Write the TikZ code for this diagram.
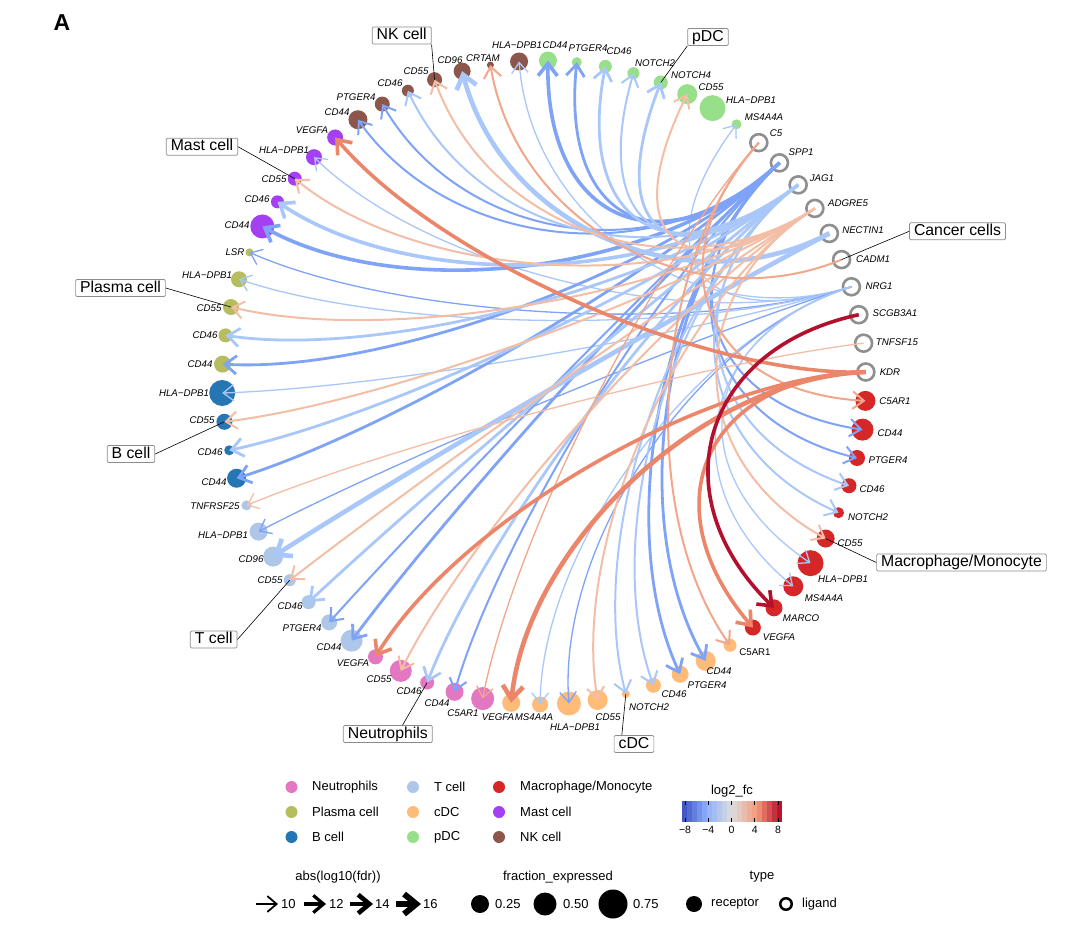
\documentclass[tikz,border=0pt]{standalone}
\usepackage{fontspec}
\setmainfont{Liberation Sans}
\usetikzlibrary{calc,arrows.meta}
\definecolor{cNeu}{HTML}{E377C2}
\definecolor{cPla}{HTML}{B5BD5E}
\definecolor{cB}{HTML}{2676B3}
\definecolor{cT}{HTML}{AEC7E8}
\definecolor{cCDC}{HTML}{FFBB78}
\definecolor{cPDC}{HTML}{98DF8A}
\definecolor{cMac}{HTML}{D62728}
\definecolor{cMast}{HTML}{A43FF2}
\definecolor{cNK}{HTML}{8C564B}
\definecolor{ligc}{HTML}{8F8F8F}
\definecolor{eB}{HTML}{7FA3F6}
\definecolor{eLB}{HTML}{A9C7F8}
\definecolor{eLS}{HTML}{F3BEA5}
\definecolor{eMS}{HTML}{F2A78A}
\definecolor{eS}{HTML}{EB866A}
\definecolor{eDR}{HTML}{B3102D}
\definecolor{cbA}{HTML}{3B4CC0}
\definecolor{cbB}{HTML}{8DB0FE}
\definecolor{cbC}{HTML}{DDDDDD}
\definecolor{cbD}{HTML}{F49A7B}
\definecolor{cbE}{HTML}{B40426}
\newcommand{\af}{0.5}
\newcommand{\rcp}[4]{\node[rcpt, fill=#3, minimum size=#4pt] (#1) at ({-1.87-5.142857*#2}:322) {};}
\newcommand{\lgd}[2]{\node[ligd] (#1) at ({-1.87-5.142857*#2}:322) {};}
\newcommand{\lr}[3]{\draw[lrarrow,#3] (#1.center) .. controls ($(O)!\af!(#1)$) and ($(O)!\af!(#2)$) .. (#2.center);}
\newcommand{\lb}[3]{\node[lbl] (L#1) at (#2) {#3};}
\tikzset{
 rcpt/.style={circle,inner sep=0pt,draw=none},
 ligd/.style={circle,inner sep=0pt,draw=ligc,line width=2.6pt,minimum size=17pt},
 lbl/.style={font=\fontsize{9.7}{11}\selectfont\itshape,inner sep=0pt},
 lbu/.style={font=\fontsize{9.7}{11}\selectfont,inner sep=0pt},
 cellbox/.style={draw=black!45,line width=0.7pt,rounded corners=1.2pt,fill=white,font=\fontsize{15.8}{18}\selectfont,inner xsep=4.5pt,inner ysep=1.2pt,text height=11.4pt,text depth=3.2pt},
 leader/.style={black,line width=0.6pt},
 lrarrow/.style={-{Straight Barb[length=9.5pt 0.8,width=15pt 1.2]}},
 w1/.style={line width=1.3pt},
 w2/.style={line width=2.0pt},
 w3/.style={line width=2.8pt},
 w4/.style={line width=3.6pt},
 w5/.style={line width=4.6pt},
 ldot/.style={circle,inner sep=0pt,minimum size=12pt},
 ltxt/.style={font=\fontsize{13}{15}\selectfont,inner sep=0pt,anchor=west},
 ttl/.style={font=\fontsize{13}{15}\selectfont,inner sep=0pt},
 tck/.style={font=\fontsize{10.5}{12}\selectfont,inner sep=0pt},
 legarrow/.style={black,-{Straight Barb[length=8pt 0.7,width=14pt 1.0]}},
}
\begin{document}
\begin{tikzpicture}[x=1pt,y=-1pt]
\fill[white] (0,0) rectangle (1080,932);
\useasboundingbox (0,0) rectangle (1080,932);
\coordinate (O) at (544,382.5);
\node[font=\fontsize{23}{26}\selectfont\bfseries,inner sep=0pt] (pA) at (62,23) {A};
\begin{scope}[shift={(544,382.5)}]
\lgd{kdr}{0} \lgd{tnfsf}{1} \lgd{scgb}{2} \lgd{nrg}{3} \lgd{cadm}{4}
\lgd{nectin}{5} \lgd{adgre}{6} \lgd{jag}{7} \lgd{spp}{8} \lgd{cfive}{9}
\rcp{pdcMS}{10}{cPDC}{10}
\rcp{pdcHLA}{11}{cPDC}{26}
\rcp{pdcCD55}{12}{cPDC}{20}
\rcp{pdcN4}{13}{cPDC}{14}
\rcp{pdcN2}{14}{cPDC}{12}
\rcp{pdcCD46}{15}{cPDC}{13}
\rcp{pdcPT}{16}{cPDC}{10}
\rcp{pdcCD44}{17}{cPDC}{18}
\rcp{nkHLA}{18}{cNK}{18}
\rcp{nkCRT}{19}{cNK}{7}
\rcp{nkCD96}{20}{cNK}{17}
\rcp{nkCD55}{21}{cNK}{15}
\rcp{nkCD46}{22}{cNK}{12}
\rcp{nkPT}{23}{cNK}{15}
\rcp{nkCD44}{24}{cNK}{19}
\rcp{msVEG}{25}{cMast}{16}
\rcp{msHLA}{26}{cMast}{16}
\rcp{msCD55}{27}{cMast}{14}
\rcp{msCD46}{28}{cMast}{13}
\rcp{msCD44}{29}{cMast}{24}
\rcp{plLSR}{30}{cPla}{8}
\rcp{plHLA}{31}{cPla}{16}
\rcp{plCD55}{32}{cPla}{16}
\rcp{plCD46}{33}{cPla}{14}
\rcp{plCD44}{34}{cPla}{17}
\rcp{bHLA}{35}{cB}{26}
\rcp{bCD55}{36}{cB}{16}
\rcp{bCD46}{37}{cB}{10}
\rcp{bCD44}{38}{cB}{19}
\rcp{tTNF}{39}{cT}{10}
\rcp{tHLA}{40}{cT}{18}
\rcp{tCD96}{41}{cT}{20}
\rcp{tCD55}{42}{cT}{12}
\rcp{tCD46}{43}{cT}{14}
\rcp{tPT}{44}{cT}{16}
\rcp{tCD44}{45}{cT}{22}
\rcp{neVEG}{46}{cNeu}{15}
\rcp{neCD55}{47}{cNeu}{22}
\rcp{neCD46}{48}{cNeu}{14}
\rcp{neCD44}{49}{cNeu}{18}
\rcp{neC5}{50}{cNeu}{23}
\rcp{cdVEG}{51}{cCDC}{18}
\rcp{cdMS}{52}{cCDC}{16}
\rcp{cdHLA}{53}{cCDC}{24}
\rcp{cdCD55}{54}{cCDC}{20}
\rcp{cdN2}{55}{cCDC}{8}
\rcp{cdCD46}{56}{cCDC}{15}
\rcp{cdPT}{57}{cCDC}{17}
\rcp{cdCD44}{58}{cCDC}{20}
\rcp{cdC5}{59}{cCDC}{13}
\rcp{moVEG}{60}{cMac}{16}
\rcp{moMAR}{61}{cMac}{17}
\rcp{moMS}{62}{cMac}{20}
\rcp{moHLA}{63}{cMac}{26}
\rcp{moCD55}{64}{cMac}{18}
\rcp{moN2}{65}{cMac}{11}
\rcp{moCD46}{66}{cMac}{15}
\rcp{moPT}{67}{cMac}{16}
\rcp{moCD44}{68}{cMac}{22}
\rcp{moC5}{69}{cMac}{20}
\end{scope}
% labels
\lb{kdr}{890,372}{KDR}
\lb{tnfsf}{897,342}{TNFSF15}
\lb{scgb}{895,313}{SCGB3A1}
\lb{nrg}{879,286}{NRG1}
\lb{cadm}{873,259}{CADM1}
\lb{nectin}{863,230}{NECTIN1}
\lb{adgre}{848,203}{ADGRE5}
\lb{jag}{822,178}{JAG1}
\lb{spp}{801,152}{SPP1}
\lb{cfive}{776,133}{C5}
\lb{pdcMS}{764,117}{MS4A4A}
\lb{pdcHLA}{751,100}{HLA−DPB1}
\lb{pdcCD55}{711,87}{CD55}
\lb{pdcN4}{691,75}{NOTCH4}
\lb{pdcN2}{655,63}{NOTCH2}
\lb{pdcCD46}{619,51}{CD46}
\lb{pdcPT}{588,48}{PTGER4}
\lb{pdcCD44}{555,45}{CD44}
\lb{nkHLA}{517,45}{HLA−DPB1}
\lb{nkCRT}{483,58}{CRTAM}
\lb{nkCD96}{450,60}{CD96}
\lb{nkCD55}{416,71}{CD55}
\lb{nkCD46}{390,83}{CD46}
\lb{nkPT}{356,97}{PTGER4}
\lb{nkCD44}{337,112}{CD44}
\lb{msVEG}{312,130}{VEGFA}
\lb{msHLA}{284,150}{HLA−DPB1}
\lb{msCD55}{274,179}{CD55}
\lb{msCD46}{257,199}{CD46}
\lb{msCD44}{237,225}{CD44}
\lb{plLSR}{235,252}{LSR}
\lb{plHLA}{207,275}{HLA−DPB1}
\lb{plCD55}{209,308}{CD55}
\lb{plCD46}{205,335}{CD46}
\lb{plCD44}{200,364}{CD44}
\lb{bHLA}{184,393}{HLA−DPB1}
\lb{bCD55}{202,420}{CD55}
\lb{bCD46}{210,452}{CD46}
\lb{bCD44}{214,482}{CD44}
\lb{tTNF}{215,506}{TNFRSF25}
\lb{tHLA}{223,535}{HLA−DPB1}
\lb{tCD96}{251,559}{CD96}
\lb{tCD55}{270,580}{CD55}
\lb{tCD46}{290,606}{CD46}
\lb{tPT}{302,628}{PTGER4}
\lb{tCD44}{329,647}{CD44}
\lb{neVEG}{353,663}{VEGFA}
\lb{neCD55}{379,679}{CD55}
\lb{neCD46}{409,691}{CD46}
\lb{neCD44}{437,703}{CD44}
\lb{neC5}{463,713}{C5AR1}
\lb{cdVEG}{498,717}{VEGFA}
\lb{cdMS}{534,717}{MS4A4A}
\lb{cdHLA}{575,727}{HLA−DPB1}
\lb{cdCD55}{608,717}{CD55}
\lb{cdN2}{649,707}{NOTCH2}
\lb{cdCD46}{674,694}{CD46}
\lb{cdPT}{707,685}{PTGER4}
\lb{cdCD44}{719,671}{CD44}
\node[lbu] (LcdC5) at (755,652) {C5AR1};
\lb{moVEG}{779,637}{VEGFA}
\lb{moMAR}{801,618}{MARCO}
\lb{moMS}{824,598}{MS4A4A}
\lb{moHLA}{843,579}{HLA−DPB1}
\lb{moCD55}{850,543}{CD55}
\lb{moN2}{868,517}{NOTCH2}
\lb{moCD46}{872,489}{CD46}
\lb{moPT}{888,460}{PTGER4}
\lb{moCD44}{890,433}{CD44}
\lb{moC5}{895,401}{C5AR1}
% edges: blue
\lr{nrg}{nkHLA}{eLB,w1}
\lr{nrg}{pdcMS}{eLB,w1}
\lr{nrg}{msHLA}{eLB,w1}
\lr{nrg}{plLSR}{eB,w1}
\lr{nrg}{plHLA}{eLB,w1}
\lr{nrg}{bHLA}{eLB,w1}
\lr{nrg}{tHLA}{eB,w1}
\lr{nrg}{cdMS}{eLB,w1}
\lr{nrg}{cdHLA}{eB,w1}
\lr{nrg}{moMS}{eLB,w1}
\lr{nrg}{moHLA}{eLB,w1}
\lr{spp}{nkCD44}{eB,w2}
\lr{spp}{nkPT}{eB,w2}
\lr{spp}{pdcCD44}{eB,w4}
\lr{spp}{pdcPT}{eB,w3}
\lr{spp}{msCD44}{eB,w4}
\lr{spp}{plCD44}{eB,w3}
\lr{spp}{bCD44}{eB,w3}
\lr{spp}{tPT}{eB,w2}
\lr{spp}{tCD44}{eB,w3}
\lr{spp}{neCD44}{eB,w2}
\lr{spp}{cdPT}{eB,w3}
\lr{spp}{cdCD44}{eB,w3}
\lr{spp}{moPT}{eB,w2}
\lr{spp}{moCD44}{eB,w2}
\lr{jag}{nkCD46}{eLB,w2}
\lr{jag}{pdcCD46}{eLB,w3}
\lr{jag}{pdcN2}{eLB,w2}
\lr{jag}{pdcN4}{eLB,w3}
\lr{jag}{msCD46}{eLB,w4}
\lr{jag}{plCD46}{eLB,w3}
\lr{jag}{bCD46}{eLB,w3}
\lr{jag}{tCD46}{eLB,w3}
\lr{jag}{neCD46}{eLB,w3}
\lr{jag}{cdN2}{eLB,w2}
\lr{jag}{cdCD46}{eLB,w2}
\lr{jag}{moN2}{eLB,w2}
\lr{jag}{moCD46}{eLB,w2}
\lr{nectin}{nkCD96}{eLB,w5}
\lr{nectin}{tCD96}{eLB,w5}
% edges: red
\lr{adgre}{nkCD55}{eLS,w2}
\lr{adgre}{pdcCD55}{eLS,w2}
\lr{adgre}{msCD55}{eLS,w2}
\lr{adgre}{plCD55}{eLS,w2}
\lr{adgre}{bCD55}{eLS,w2}
\lr{adgre}{tCD55}{eLS,w2}
\lr{adgre}{neCD55}{eLS,w2}
\lr{adgre}{cdCD55}{eLS,w2}
\lr{adgre}{moCD55}{eLS,w2}
\lr{cadm}{nkCRT}{eMS,w2}
\lr{tnfsf}{tTNF}{eLS,w1}
\lr{cfive}{neC5}{eMS,w1}
\lr{cfive}{cdC5}{eMS,w2}
\lr{cfive}{moC5}{eMS,w2}
\lr{kdr}{msVEG}{eS,w4}
\lr{kdr}{neVEG}{eS,w4}
\lr{kdr}{cdVEG}{eS,w5}
\lr{kdr}{moVEG}{eS,w4}
\lr{scgb}{moMAR}{eDR,w4}
% cell type boxes
\node[cellbox] (boxNK) at (401.7,35.5) {NK cell};
\node[cellbox] (boxPDC) at (708,37) {pDC};
\node[cellbox] (boxMast) at (202,146.7) {Mast cell};
\node[cellbox] (boxPl) at (120.5,288) {Plasma cell};
\node[cellbox] (boxB) at (131,454) {B cell};
\node[cellbox] (boxT) at (213.7,639.5) {T cell};
\node[cellbox] (boxNeu) at (387.8,734) {Neutrophils};
\node[cellbox] (boxCDC) at (634,744) {cDC};
\node[cellbox] (boxMac) at (961.5,562.5) {Macrophage/Monocyte};
\node[cellbox] (boxCan) at (957.5,231.3) {Cancer cells};
\draw[leader] (boxNK.south east) -- (nkCD55.center);
\draw[leader] (boxPDC.south west) -- (pdcN4.center);
\draw[leader] (boxMast.east) -- (msCD55.center);
\draw[leader] (boxPl.east) -- (plCD55.center);
\draw[leader] (boxB.east) -- (bCD55.center);
\draw[leader] (boxT.east) -- (tCD55.center);
\draw[leader] (boxNeu.31) -- (neCD46.center);
\draw[leader] (boxCDC.144) -- (cdN2.center);
\draw[leader] (boxMac.west) -- (moCD55.center);
\draw[leader] (boxCan.west) -- (cadm.center);
% legend: cell types
\node[ldot,fill=cNeu] (d1) at (291.5,787) {}; \node[ltxt] (t1) at (312,787) {Neutrophils};
\node[ldot,fill=cPla] (d2) at (291.5,812) {}; \node[ltxt] (t2) at (312,812) {Plasma cell};
\node[ldot,fill=cB] (d3) at (291.5,837) {}; \node[ltxt] (t3) at (312,837) {B cell};
\node[ldot,fill=cT] (d4) at (413,787) {}; \node[ltxt] (t4) at (434,787) {T cell};
\node[ldot,fill=cCDC] (d5) at (413,812) {}; \node[ltxt] (t5) at (434,812) {cDC};
\node[ldot,fill=cPDC] (d6) at (413,837) {}; \node[ltxt] (t6) at (434,837) {pDC};
\node[ldot,fill=cMac] (d7) at (499,787) {}; \node[ltxt] (t7) at (520,787) {Macrophage/Monocyte};
\node[ldot,fill=cMast] (d8) at (499,812) {}; \node[ltxt] (t8) at (520,812) {Mast cell};
\node[ldot,fill=cNK] (d9) at (499,837) {}; \node[ltxt] (t9) at (520,837) {NK cell};
% colorbar
\node[ttl] (cbt) at (732,791) {log2\_fc};
\foreach \i in {0,...,19}{
  \pgfmathtruncatemacro\sg{\i/5}
  \pgfmathsetmacro\pf{100-(mod(\i,5)+0.5)*20}
  \ifcase\sg \colorlet{bandc}{cbA!\pf!cbB}\or \colorlet{bandc}{cbB!\pf!cbC}\or \colorlet{bandc}{cbC!\pf!cbD}\or \colorlet{bandc}{cbD!\pf!cbE}\fi
  \fill[bandc] ({682+5*\i},801) rectangle ({687.4+5*\i},822);
}
\foreach \x/\t [count=\n] in {685/{−8},708.25/{−4},731.5/0,754.75/4,778/8}{
  \draw[black,line width=0.8pt] (\x,801) -- (\x,805);
  \draw[black,line width=0.8pt] (\x,818) -- (\x,822);
  \node[tck] (tk\n) at (\x,830) {\t};
}
% legend: arrows
\node[ttl] (fdrt) at (338,877) {abs(log10(fdr))};
\draw[legarrow,line width=1.8pt] (256,904) -- (278,904);
\node[ltxt] (a10) at (281,904) {10};
\draw[legarrow,line width=3.2pt] (304,904) -- (326,904);
\node[ltxt] (a12) at (329,904) {12};
\draw[legarrow,line width=4.6pt] (350,904) -- (373,904);
\node[ltxt] (a14) at (375,904) {14};
\draw[legarrow,line width=6pt] (396,904) -- (421,904);
\node[ltxt] (a16) at (423,904) {16};
% legend: fraction
\node[ttl] (fet) at (558,877) {fraction\_expressed};
\node[circle,fill=black,inner sep=0pt,minimum size=18pt] (f1) at (480,904) {};
\node[ltxt] (f1t) at (495,904) {0.25};
\node[circle,fill=black,inner sep=0pt,minimum size=23pt] (f2) at (545,904) {};
\node[ltxt] (f2t) at (563,904) {0.50};
\node[circle,fill=black,inner sep=0pt,minimum size=29pt] (f3) at (613,904) {};
\node[ltxt] (f3t) at (633,904) {0.75};
% legend: type
\node[ttl] (tyt) at (762,877) {type};
\node[circle,fill=black,inner sep=0pt,minimum size=16pt] (ty1) at (694,904) {};
\node[ltxt] (ty1t) at (711,904) {receptor};
\node[circle,draw=black,line width=2.5pt,inner sep=0pt,minimum size=11.5pt] (ty2) at (786,904) {};
\node[ltxt] (ty2t) at (802,904) {ligand};
\end{tikzpicture}
\end{document}
